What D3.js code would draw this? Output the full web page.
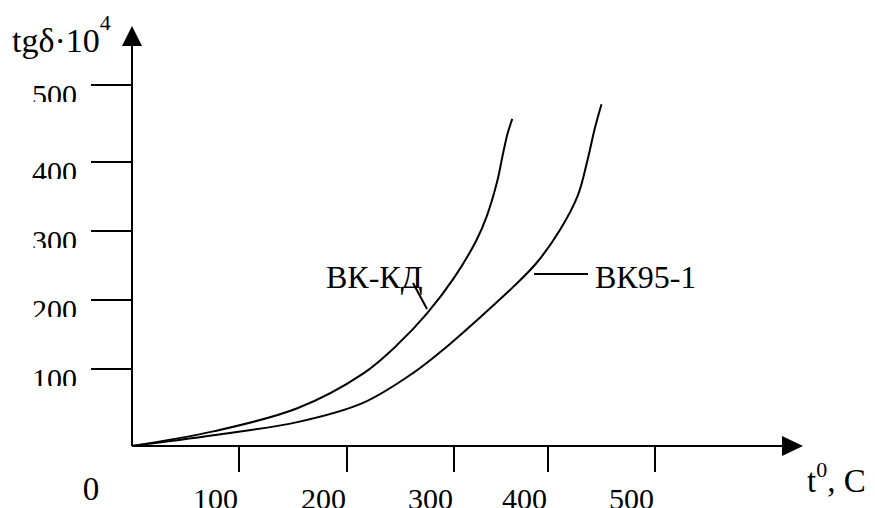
<!DOCTYPE html>
<html>
<head>
<meta charset="utf-8">
<script src="https://cdn.jsdelivr.net/npm/d3@7/dist/d3.min.js"></script>
<style>
  html, body { margin: 0; padding: 0; background: #fff; }
  svg { display: block; }
  text { font-family: "Liberation Serif", "Times New Roman", serif; fill: #000; }
</style>
</head>
<body>
<div id="chart"></div>
<script>
// ---- data ----
const xTicks = [100, 200, 300, 400, 500];
const yTicks = [100, 200, 300, 400, 500];
const seriesNames = ["ВК-КД", "ВК95-1"];
const vkkdT = [0, 76, 154, 215, 247, 275, 300, 324, 335, 346, 352, 357, 362];
const vkkdV = [0, 19, 49, 94, 135, 181, 232, 287, 322, 372, 410, 437, 456];
const vk95T = [0, 76, 154, 215, 262, 293, 328, 363, 388, 411, 428, 437, 444, 450];
const vk95V = [0, 14, 31, 56, 95, 132, 175, 219, 254, 301, 352, 403, 445, 475];

const W = 875, H = 508;
const svg = d3.select("#chart").append("svg").attr("width", W).attr("height", H);

// hand-drawn axes: tick spacing is not perfectly even, so piecewise-linear scales
const x = d3.scaleLinear().domain([0, 100, 200, 300, 400, 500]).range([132, 239, 347, 454, 548, 655]);
const y = d3.scaleLinear().domain([0, 100, 200, 300, 400, 500]).range([446, 369, 300, 231, 162, 85]);

const x0 = x(0), y0 = y(0);
const FS = 30;

// axes
svg.append("line").attr("x1", x0).attr("y1", y0).attr("x2", x0).attr("y2", 44)
  .attr("stroke", "#000").attr("stroke-width", 2);
svg.append("path").attr("d", `M${x0},26 L${x0 - 10},46 L${x0 + 10},46 Z`).attr("fill", "#000");
svg.append("line").attr("x1", x0).attr("y1", y0).attr("x2", 784).attr("y2", y0)
  .attr("stroke", "#000").attr("stroke-width", 2);
svg.append("path").attr("d", `M803,${y0} L782,${y0 - 10} L782,${y0 + 10} Z`).attr("fill", "#000");

// y ticks
const defs = svg.append("defs");
yTicks.forEach((t, i) => {
  svg.append("line").attr("x1", 91).attr("x2", x0).attr("y1", y(t)).attr("y2", y(t))
    .attr("stroke", "#000").attr("stroke-width", 2);
  defs.append("clipPath").attr("id", "yc" + i)
    .append("rect").attr("x", 0).attr("y", y(t) - 1).attr("width", 90).attr("height", 18);
  svg.append("text").attr("x", 77).attr("y", y(t) + 20).attr("text-anchor", "end")
    .attr("font-size", FS).attr("clip-path", `url(#yc${i})`).text(t);
});

// x ticks
xTicks.forEach(t => {
  svg.append("line").attr("x1", x(t)).attr("x2", x(t)).attr("y1", y0).attr("y2", 472)
    .attr("stroke", "#000").attr("stroke-width", 2);
  svg.append("text").attr("x", x(t) - 1).attr("y", 509).attr("text-anchor", "end")
    .attr("font-size", FS).text(t);
});

// origin label
svg.append("text").attr("x", 91).attr("y", 500).attr("text-anchor", "middle")
  .attr("font-size", 33).text("0");

// axis titles
const yt = svg.append("text").attr("x", 12).attr("y", 52).attr("font-size", 34);
yt.append("tspan").text("tgδ·10");
yt.append("tspan").attr("font-size", 22).attr("dy", -22).text("4");

const xt = svg.append("text").attr("x", 807).attr("y", 492).attr("font-size", 33);
xt.append("tspan").text("t");
xt.append("tspan").attr("font-size", 22).attr("dy", -15).text("0");
xt.append("tspan").attr("dy", 15).text(", C");

// curves
const line = d3.line().x(d => x(d[0])).y(d => y(d[1])).curve(d3.curveCatmullRom.alpha(0.5));
const s1 = vkkdT.map((t, i) => [t, vkkdV[i]]);
const s2 = vk95T.map((t, i) => [t, vk95V[i]]);
[s1, s2].forEach(s => {
  svg.append("path").datum(s).attr("d", line)
    .attr("fill", "none").attr("stroke", "#000").attr("stroke-width", 2);
});

// labels with leader lines
svg.append("text").attr("x", 326).attr("y", 288).attr("font-size", 32).text(seriesNames[0]);
svg.append("line").attr("x1", 413).attr("y1", 283).attr("x2", 427).attr("y2", 309)
  .attr("stroke", "#000").attr("stroke-width", 2);
svg.append("text").attr("x", 595).attr("y", 288).attr("font-size", 32).text(seriesNames[1]);
svg.append("line").attr("x1", 534).attr("y1", 274).attr("x2", 588).attr("y2", 274)
  .attr("stroke", "#000").attr("stroke-width", 2);
</script>
</body>
</html>
